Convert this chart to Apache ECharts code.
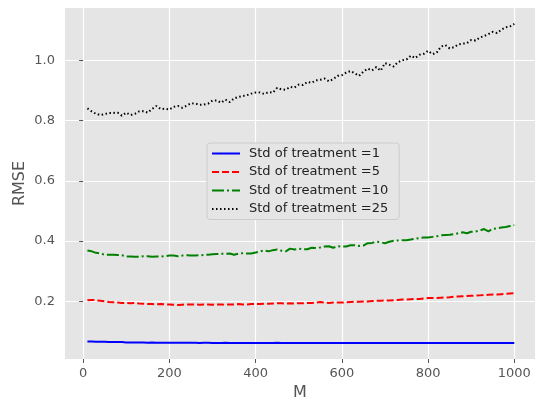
<!DOCTYPE html>
<html>
<head>
<meta charset="utf-8">
<title>RMSE vs M</title>
<script src="https://cdn.jsdelivr.net/npm/echarts@6/dist/echarts.min.js"></script>
<style>
  html, body { margin: 0; padding: 0; background: #ffffff; }
  #chart { width: 535px; height: 406px; }
</style>
</head>
<body>
<div id="chart"></div>
<script>
// Sample sizes M
const mValues = [
  10, 20, 30, 40, 50, 60, 70, 80, 90, 100,
  110, 120, 130, 140, 150, 160, 170, 180, 190, 200,
  210, 220, 230, 240, 250, 260, 270, 280, 290, 300,
  310, 320, 330, 340, 350, 360, 370, 380, 390, 400,
  410, 420, 430, 440, 450, 460, 470, 480, 490, 500,
  510, 520, 530, 540, 550, 560, 570, 580, 590, 600,
  610, 620, 630, 640, 650, 660, 670, 680, 690, 700,
  710, 720, 730, 740, 750, 760, 770, 780, 790, 800,
  810, 820, 830, 840, 850, 860, 870, 880, 890, 900,
  910, 920, 930, 940, 950, 960, 970, 980, 990, 1000
];

// RMSE for treatment std = 1
const rmseStd1 = [
  0.067, 0.067, 0.066, 0.066, 0.066, 0.065, 0.065, 0.065, 0.065, 0.064,
  0.064, 0.064, 0.064, 0.064, 0.063, 0.064, 0.063, 0.063, 0.063, 0.063,
  0.063, 0.063, 0.063, 0.063, 0.063, 0.063, 0.062, 0.063, 0.063, 0.062,
  0.062, 0.062, 0.063, 0.062, 0.062, 0.062, 0.062, 0.062, 0.062, 0.062,
  0.062, 0.062, 0.062, 0.062, 0.063, 0.062, 0.062, 0.062, 0.062, 0.062,
  0.062, 0.062, 0.062, 0.062, 0.062, 0.062, 0.062, 0.062, 0.062, 0.062,
  0.062, 0.062, 0.062, 0.062, 0.062, 0.062, 0.062, 0.062, 0.062, 0.062,
  0.062, 0.062, 0.062, 0.062, 0.062, 0.062, 0.062, 0.062, 0.062, 0.062,
  0.062, 0.062, 0.062, 0.062, 0.062, 0.062, 0.062, 0.062, 0.062, 0.062,
  0.062, 0.062, 0.062, 0.062, 0.062, 0.062, 0.062, 0.062, 0.062, 0.062
];

// RMSE for treatment std = 5
const rmseStd5 = [
  0.204, 0.205, 0.204, 0.202, 0.200, 0.198, 0.197, 0.196, 0.195, 0.195,
  0.194, 0.195, 0.193, 0.192, 0.191, 0.191, 0.190, 0.191, 0.190, 0.190,
  0.189, 0.188, 0.189, 0.190, 0.190, 0.190, 0.189, 0.190, 0.190, 0.189,
  0.190, 0.190, 0.189, 0.190, 0.190, 0.191, 0.190, 0.190, 0.191, 0.192,
  0.191, 0.192, 0.192, 0.193, 0.194, 0.194, 0.193, 0.194, 0.193, 0.194,
  0.194, 0.195, 0.195, 0.196, 0.198, 0.196, 0.195, 0.196, 0.196, 0.196,
  0.197, 0.198, 0.199, 0.199, 0.200, 0.200, 0.201, 0.202, 0.202, 0.203,
  0.203, 0.204, 0.205, 0.206, 0.206, 0.207, 0.208, 0.208, 0.210, 0.211,
  0.211, 0.211, 0.212, 0.213, 0.214, 0.216, 0.216, 0.217, 0.218, 0.219,
  0.219, 0.220, 0.221, 0.222, 0.223, 0.223, 0.224, 0.225, 0.226, 0.227
];

// RMSE for treatment std = 10
const rmseStd10 = [
  0.369, 0.366, 0.361, 0.359, 0.355, 0.355, 0.355, 0.354, 0.353, 0.349,
  0.349, 0.348, 0.348, 0.350, 0.350, 0.348, 0.349, 0.349, 0.350, 0.352,
  0.352, 0.350, 0.352, 0.353, 0.352, 0.352, 0.353, 0.354, 0.355, 0.356,
  0.357, 0.358, 0.358, 0.359, 0.355, 0.358, 0.360, 0.359, 0.359, 0.362,
  0.366, 0.369, 0.366, 0.370, 0.372, 0.368, 0.366, 0.375, 0.372, 0.375,
  0.373, 0.373, 0.378, 0.377, 0.379, 0.382, 0.383, 0.378, 0.383, 0.382,
  0.382, 0.386, 0.386, 0.384, 0.385, 0.393, 0.394, 0.398, 0.396, 0.393,
  0.398, 0.401, 0.402, 0.403, 0.403, 0.405, 0.408, 0.410, 0.412, 0.412,
  0.414, 0.416, 0.419, 0.420, 0.421, 0.423, 0.426, 0.429, 0.426, 0.431,
  0.432, 0.435, 0.440, 0.432, 0.441, 0.442, 0.445, 0.447, 0.450, 0.453
];

// RMSE for treatment std = 25
const rmseStd25 = [
  0.840, 0.830, 0.822, 0.818, 0.821, 0.825, 0.825, 0.826, 0.816, 0.826,
  0.818, 0.822, 0.830, 0.831, 0.826, 0.838, 0.848, 0.838, 0.839, 0.836,
  0.845, 0.848, 0.842, 0.849, 0.857, 0.856, 0.852, 0.853, 0.856, 0.866,
  0.866, 0.859, 0.869, 0.861, 0.873, 0.878, 0.881, 0.884, 0.889, 0.893,
  0.893, 0.888, 0.894, 0.892, 0.908, 0.903, 0.902, 0.911, 0.909, 0.919,
  0.918, 0.928, 0.925, 0.933, 0.935, 0.939, 0.930, 0.937, 0.948, 0.950,
  0.959, 0.964, 0.956, 0.948, 0.962, 0.972, 0.966, 0.977, 0.965, 0.990,
  0.985, 0.979, 0.993, 1.000, 1.002, 1.015, 1.007, 1.018, 1.021, 1.031,
  1.020, 1.025, 1.045, 1.050, 1.039, 1.043, 1.052, 1.055, 1.056, 1.067,
  1.065, 1.075, 1.080, 1.086, 1.094, 1.090, 1.101, 1.109, 1.112, 1.120
];

const xTicks = [0, 200, 400, 600, 800, 1000];
const yTicks = [0.2, 0.4, 0.6, 0.8, 1.0];

const seriesNames = [
  'Std of treatment =1',
  'Std of treatment =5',
  'Std of treatment =10',
  'Std of treatment =25'
];

function pairs(ys) {
  return mValues.map((m, i) => [m, ys[i]]);
}

const FONT = 'DejaVu Sans';
const GREY = '#555555';

const chart = echarts.init(document.getElementById('chart'), null, { renderer: 'canvas' });

const lineSeries = (name, ys, color, type) => ({
  name: name,
  type: 'line',
  data: pairs(ys),
  showSymbol: false,
  symbol: 'none',
  animation: false,
  lineStyle: { color: color, width: 2, type: type, cap: 'butt' },
  itemStyle: { color: color }
});

chart.setOption({
  backgroundColor: '#ffffff',
  animation: false,
  grid: {
    left: 65, right: -4, top: 8, bottom: 46,
    show: true, backgroundColor: '#E5E5E5', borderWidth: 0
  },
  xAxis: {
    type: 'value',
    min: -42, max: 1048,
    name: 'M',
    nameLocation: 'middle',
    nameGap: 26,
    nameMoveOverlap: false,
    nameTextStyle: { fontFamily: FONT, fontSize: 16, color: GREY },
    axisLine: { show: false },
    axisTick: { show: true, length: 4, customValues: xTicks, lineStyle: { color: GREY, width: 1 } },
    axisLabel: {
      customValues: xTicks, margin: 8, fontFamily: FONT, fontSize: 13, color: GREY,
      formatter: v => String(v)
    },
    splitLine: { show: true, lineStyle: { color: '#ffffff', width: 1.2 } }
  },
  yAxis: {
    type: 'value',
    min: 0.009, max: 1.173,
    name: 'RMSE',
    nameLocation: 'middle',
    nameGap: 37,
    nameMoveOverlap: false,
    nameTextStyle: { fontFamily: FONT, fontSize: 16, color: GREY },
    axisLine: { show: false },
    axisTick: { show: true, length: 4, customValues: yTicks, lineStyle: { color: GREY, width: 1 } },
    axisLabel: {
      customValues: yTicks, margin: 10, fontFamily: FONT, fontSize: 13, color: GREY,
      formatter: v => v.toFixed(1)
    },
    splitLine: { show: true, lineStyle: { color: '#ffffff', width: 1.2 } }
  },
  legend: {
    orient: 'vertical',
    left: 207, top: 143,
    data: seriesNames,
    itemWidth: 28, itemHeight: 14, itemGap: 5.5,
    padding: [4, 11, 4, 4],
    backgroundColor: '#E5E5E5',
    borderColor: '#CCCCCC', borderWidth: 1, borderRadius: 3,
    itemStyle: { opacity: 0 },
    textStyle: { fontFamily: FONT, fontSize: 13, color: '#222222', padding: [0, 0, 0, 4] }
  },
  series: [
    lineSeries(seriesNames[0], rmseStd1, '#0000FF', 'solid'),
    lineSeries(seriesNames[1], rmseStd5, '#FF0000', [7, 3]),
    lineSeries(seriesNames[2], rmseStd10, '#008000', [12, 3, 2, 3]),
    lineSeries(seriesNames[3], rmseStd25, '#000000', [1.5, 2.5])
  ]
});
</script>
</body>
</html>
